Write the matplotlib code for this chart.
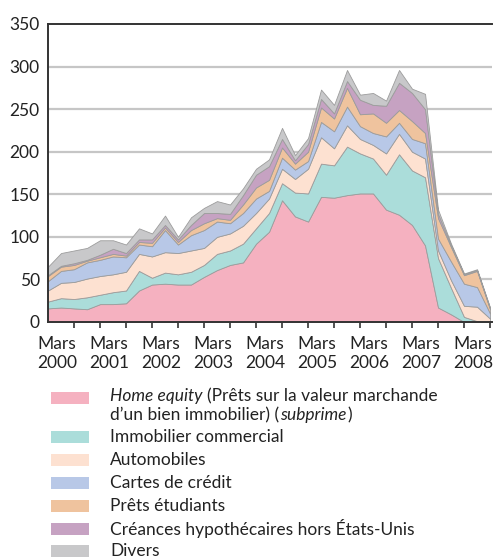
import numpy as np
import matplotlib
matplotlib.use("Agg")
import matplotlib.pyplot as plt
from matplotlib.patches import Rectangle
from matplotlib.transforms import blended_transform_factory

# Quarterly observations, March 2000 .. mid-2008
quarters = list(range(35))
year_labels = ["Mars\n2000", "Mars\n2001", "Mars\n2002", "Mars\n2003", "Mars\n2004",
               "Mars\n2005", "Mars\n2006", "Mars\n2007", "Mars\n2008"]

home_equity = [16, 17, 16, 15, 21, 21, 22, 37, 44, 45, 44, 44, 53, 61, 67, 70, 92, 106,
               143, 124, 118, 147, 146, 149, 151, 151, 132, 126, 114, 90, 17, 9, 0, 0, 0]
immobilier_commercial = [8, 11, 11, 14, 11, 14, 15, 23, 8, 13, 12, 15, 14, 19, 17, 22, 18, 22,
                         20, 28, 33, 39, 38, 57, 47, 41, 41, 71, 64, 80, 58, 31, 6, 1, 0]
automobiles = [13, 18, 20, 22, 22, 21, 22, 20, 25, 24, 25, 25, 20, 20, 20, 21, 18, 17,
               17, 16, 29, 31, 20, 25, 17, 16, 25, 24, 22, 22, 9, 9, 13, 17, 4]
cartes_credit = [11, 14, 15, 19, 19, 21, 17, 11, 12, 26, 10, 18, 21, 18, 12, 15, 17, 9,
                 13, 11, 9, 18, 20, 22, 15, 14, 20, 13, 15, 18, 14, 22, 26, 23, 6]
prets_etudiants = [6, 5, 5, 2, 3, 3, 2, 3, 4, 3, 3, 6, 8, 4, 4, 10, 13, 13,
                   12, 7, 11, 17, 15, 22, 14, 23, 16, 15, 21, 12, 24, 17, 10, 19, 5]
hors_etats_unis = [1, 1, 2, 1, 3, 6, 3, 3, 4, 3, 3, 6, 12, 6, 7, 11, 15, 16,
                   10, 4, 9, 10, 6, 8, 17, 10, 20, 32, 33, 28, 5, 2, 1, 1, 1]
divers = [10, 15, 15, 14, 17, 10, 10, 13, 7, 11, 3, 9, 6, 14, 11, 8, 7, 8,
          13, 6, 7, 11, 10, 13, 6, 14, 6, 15, 5, 18, 5, 2, 1, 1, 1]

series = [home_equity, immobilier_commercial, automobiles, cartes_credit,
          prets_etudiants, hors_etats_unis, divers]
colors = ["#F5B1C0", "#ABDDDA", "#FDE1D1", "#B8C8E7", "#EFC39E", "#C6A2C2", "#C8C8CA"]
legend_labels = [
    None,  # drawn specially (mixed italic)
    "Immobilier commercial",
    "Automobiles",
    "Cartes de crédit",
    "Prêts étudiants",
    "Créances hypothécaires hors États-Unis",
    "Divers",
]

FONT = "Lato"
plt.rcParams["font.family"] = [FONT, "DejaVu Sans"]

W, H = 493, 559
fig = plt.figure(figsize=(W / 100, H / 100), dpi=100)
left, right, top, bottom = 48, 492, 24, 322
ax = fig.add_axes([left / W, 1 - bottom / H, (right - left) / W, (bottom - top) / H])

ax.stackplot(quarters, *series, colors=colors, edgecolor="#9C9C9C", linewidth=0.6, zorder=2)

ax.set_xlim(0, 34.15)
ax.set_ylim(0, 350)
ax.set_yticks(range(0, 351, 50))
ax.tick_params(axis="y", length=0, pad=6, labelsize=12.5, colors="#222222")
for yv in range(50, 301, 50):
    ax.axhline(yv, color="#C6C6C6", lw=1.6, zorder=1)

ax.set_xticks(range(2, 35, 2))
ax.set_xticklabels([])
ax.tick_params(axis="x", length=4, width=1.2, color="#333333", direction="out")

for s in ["left", "bottom", "top"]:
    ax.spines[s].set_color("#333333")
    ax.spines[s].set_linewidth(1.4)
    ax.spines[s].set_zorder(5)
ax.spines["right"].set_visible(False)

trans = blended_transform_factory(ax.transData, fig.transFigure)
for k, lab in enumerate(year_labels):
    ax.text(4 * k + 0.7, 1 - 336 / H, lab, transform=trans, ha="center", va="top",
            fontsize=12.5, color="#222222", linespacing=1.25)

# Legend
patch_x0, patch_w, patch_h = 51, 38, 12
text_x = 110
rows = [398, 437, 460, 483, 506, 529, 551]
for c, yc in zip(colors, rows):
    fig.patches.append(Rectangle((patch_x0 / W, 1 - (yc + patch_h / 2) / H), patch_w / W,
                                 patch_h / H, transform=fig.transFigure, facecolor=c,
                                 edgecolor="none"))

fs = 12.5
fig.canvas.draw()
renderer = fig.canvas.get_renderer()


def run_text(pieces, x_px, y_px):
    x = x_px
    for txt, style, gap in pieces:
        t = fig.text(x / W, 1 - y_px / H, txt, style=style, fontsize=fs, va="center",
                     ha="left", color="#222222")
        bb = t.get_window_extent(renderer=renderer)
        x += bb.width + gap


run_text([("Home equity", "italic", 4.5), ("(Prêts sur la valeur marchande", "normal", 0)],
         text_x, 396)
run_text([("d\u2019un bien immobilier) (", "normal", 0.5), ("subprime", "italic", 1),
          (")", "normal", 0)], text_x, 415)
for lab, yc in zip(legend_labels[1:], rows[1:]):
    fig.text(text_x / W, 1 - yc / H, lab, fontsize=fs, va="center", ha="left",
             color="#222222")

fig.savefig("out.png", dpi=100)
